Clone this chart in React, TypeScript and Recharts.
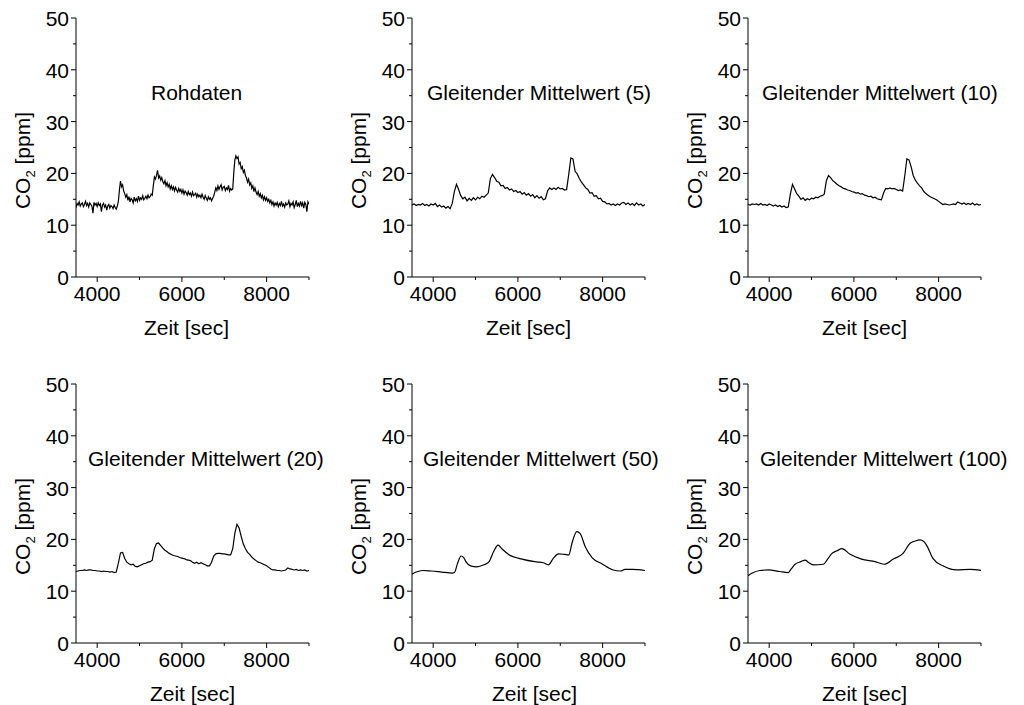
import React from "react";
import { LineChart, Line, XAxis, YAxis } from "recharts";

const FONT = '"Liberation Sans", Arial, Helvetica, sans-serif';

// sampling grid of the raw data (sec)
const TIME_25 = [
  3500, 3525, 3550, 3575, 3600, 3625, 3650, 3675, 3700, 3725, 3750, 3775, 3800, 3825, 3850, 3875, 3900, 3925, 3950, 3975,
  4000, 4025, 4050, 4075, 4100, 4125, 4150, 4175, 4200, 4225, 4250, 4275, 4300, 4325, 4350, 4375, 4400, 4425, 4450, 4475,
  4500, 4525, 4550, 4575, 4600, 4625, 4650, 4675, 4700, 4725, 4750, 4775, 4800, 4825, 4850, 4875, 4900, 4925, 4950, 4975,
  5000, 5025, 5050, 5075, 5100, 5125, 5150, 5175, 5200, 5225, 5250, 5275, 5300, 5325, 5350, 5375, 5400, 5425, 5450, 5475,
  5500, 5525, 5550, 5575, 5600, 5625, 5650, 5675, 5700, 5725, 5750, 5775, 5800, 5825, 5850, 5875, 5900, 5925, 5950, 5975,
  6000, 6025, 6050, 6075, 6100, 6125, 6150, 6175, 6200, 6225, 6250, 6275, 6300, 6325, 6350, 6375, 6400, 6425, 6450, 6475,
  6500, 6525, 6550, 6575, 6600, 6625, 6650, 6675, 6700, 6725, 6750, 6775, 6800, 6825, 6850, 6875, 6900, 6925, 6950, 6975,
  7000, 7025, 7050, 7075, 7100, 7125, 7150, 7175, 7200, 7225, 7250, 7275, 7300, 7325, 7350, 7375, 7400, 7425, 7450, 7475,
  7500, 7525, 7550, 7575, 7600, 7625, 7650, 7675, 7700, 7725, 7750, 7775, 7800, 7825, 7850, 7875, 7900, 7925, 7950, 7975,
  8000, 8025, 8050, 8075, 8100, 8125, 8150, 8175, 8200, 8225, 8250, 8275, 8300, 8325, 8350, 8375, 8400, 8425, 8450, 8475,
  8500, 8525, 8550, 8575, 8600, 8625, 8650, 8675, 8700, 8725, 8750, 8775, 8800, 8825, 8850, 8875, 8900, 8925, 8950, 8975,
  9000,
];

// CO2 [ppm], raw readings
const RAW = [
  13.4, 14.2, 13.9, 14.5, 13.7, 14.1, 14.3, 13.6, 14.0, 14.6, 13.8, 14.2, 13.5, 14.3, 14.0, 13.7, 12.3, 14.4, 13.9, 14.2,
  13.6, 14.3, 13.8, 14.1, 12.6, 13.9, 14.2, 13.5, 13.9, 12.9, 13.7, 14.0, 13.3, 13.8, 13.6, 13.2, 13.9, 13.4, 13.1, 13.7,
  14.6, 16.8, 18.5, 17.4, 17.8, 16.6, 16.1, 15.4, 15.9, 14.8, 15.5, 14.5, 15.2, 14.9, 14.3, 15.4, 14.7, 15.1, 14.6, 15.6,
  14.8, 15.3, 15.0, 15.7, 14.9, 15.2, 15.6, 15.1, 15.8, 15.3, 15.5, 16.0, 15.8, 17.6, 19.3, 18.9, 19.6, 20.6, 19.1, 19.5,
  18.7, 19.2, 18.4, 18.0, 18.6, 17.6, 18.2, 17.4, 17.9, 17.0, 17.6, 16.9, 17.4, 16.6, 17.3, 16.8, 16.4, 17.1, 16.5, 16.9,
  16.2, 16.8, 16.0, 16.6, 16.3, 15.8, 16.5, 15.9, 16.2, 15.6, 16.4, 15.7, 15.9, 16.2, 15.4, 16.0, 15.5, 15.8, 15.3, 16.0,
  15.4, 15.0, 15.7, 15.2, 14.8, 15.5, 15.0, 15.3, 14.7, 15.2, 15.6, 16.4, 17.2, 16.7, 17.6, 16.9, 17.4, 17.8, 16.8, 17.3,
  17.5, 16.7, 17.2, 16.9, 17.7, 16.6, 17.1, 16.8, 17.0, 20.2, 22.6, 23.4, 22.9, 23.2, 21.8, 22.1, 20.9, 21.3, 20.2, 20.6,
  19.6, 19.1, 18.3, 18.9, 17.8, 18.2, 17.1, 17.6, 16.5, 17.2, 16.4, 15.9, 16.5, 15.6, 16.1, 15.3, 15.8, 14.9, 15.5, 14.8,
  15.3, 14.6, 15.0, 14.3, 14.8, 14.0, 14.5, 13.7, 14.3, 13.9, 14.4, 13.6, 14.2, 13.8, 14.6, 13.7, 14.1, 13.5, 14.3, 13.9,
  14.1, 14.7, 13.6, 14.2, 13.9, 14.5, 13.4, 14.0, 14.8, 13.6, 14.2, 13.7, 14.6, 13.8, 14.3, 13.3, 14.4, 14.0, 12.6, 14.5,
  14.1,
];

// sampling grid of the short moving averages (sec)
const TIME_50 = [
  3500, 3550, 3600, 3650, 3700, 3750, 3800, 3850, 3900, 3950,
  4000, 4050, 4100, 4150, 4200, 4250, 4300, 4350, 4400, 4450,
  4500, 4550, 4600, 4650, 4700, 4750, 4800, 4850, 4900, 4950,
  5000, 5050, 5100, 5150, 5200, 5250, 5300, 5350, 5400, 5450,
  5500, 5550, 5600, 5650, 5700, 5750, 5800, 5850, 5900, 5950,
  6000, 6050, 6100, 6150, 6200, 6250, 6300, 6350, 6400, 6450,
  6500, 6550, 6600, 6650, 6700, 6750, 6800, 6850, 6900, 6950,
  7000, 7050, 7100, 7150, 7200, 7250, 7300, 7350, 7400, 7450,
  7500, 7550, 7600, 7650, 7700, 7750, 7800, 7850, 7900, 7950,
  8000, 8050, 8100, 8150, 8200, 8250, 8300, 8350, 8400, 8450,
  8500, 8550, 8600, 8650, 8700, 8750, 8800, 8850, 8900, 8950,
  9000,
];

const MA5 = [
  13.9, 14.1, 13.8, 14.0, 13.9, 14.2, 13.8, 14.0, 13.7, 14.1,
  13.9, 14.2, 13.6, 13.9, 13.5, 13.7, 13.3, 13.6, 13.2, 14.2,
  16.5, 17.9, 16.9, 15.7, 15.1, 15.4, 14.7, 15.2, 14.8, 15.3,
  14.9, 15.4, 15.1, 15.6, 15.4, 15.8, 16.2, 19.0, 19.8, 19.2,
  18.5, 18.3, 17.6, 17.7, 17.1, 17.3, 16.8, 17.0, 16.5, 16.7,
  16.3, 16.5, 16.0, 16.3, 15.8, 16.1, 15.6, 15.9, 15.3, 15.7,
  15.2, 15.5, 14.9, 15.1, 16.6, 17.2, 16.9, 17.2, 16.9, 17.3,
  17.0, 17.1, 16.8, 16.9, 19.8, 23.0, 22.8, 20.4, 19.9, 19.0,
  18.3, 17.8, 17.2, 16.9, 16.2, 16.3, 15.6, 15.7, 15.1, 15.2,
  14.6, 14.5, 14.1, 14.2, 13.9, 14.1, 13.8, 14.1, 13.9, 14.3,
  14.4, 14.0, 14.3, 13.9, 14.2, 13.8, 14.3, 13.9, 14.1, 13.7,
  14.0,
];

const MA10 = [
  14.0, 13.9, 14.1, 14.0, 14.1, 13.9, 14.2, 13.9, 14.0, 13.8,
  14.1, 13.9, 13.7, 13.9, 13.6, 13.8, 13.5, 13.7, 13.4, 13.5,
  16.0, 17.9, 17.0, 16.1, 15.6, 15.0, 15.3, 14.8, 15.1, 14.9,
  15.2, 15.1, 15.4, 15.3, 15.6, 15.7, 16.0, 18.6, 19.6, 19.2,
  18.6, 18.3, 17.9, 17.6, 17.4, 17.1, 17.0, 16.8, 16.7, 16.5,
  16.4, 16.2, 16.3, 16.0, 16.1, 15.8, 15.7, 15.5, 15.6, 15.3,
  15.4, 15.1, 15.0, 14.9, 16.2, 17.1, 17.0, 17.2, 17.0, 17.1,
  16.9, 16.7, 16.8, 16.6, 19.5, 22.8, 22.6, 21.3, 19.6, 18.7,
  18.1, 17.6, 17.2, 16.5, 16.1, 15.8, 15.5, 15.3, 15.1, 14.9,
  14.6, 14.3, 14.0, 14.1, 14.0, 13.9, 14.0, 14.1, 14.0, 14.5,
  14.3, 14.1, 14.3, 14.0, 14.2, 14.0, 14.3, 13.9, 14.1, 13.9,
  14.0,
];

const MA20 = [
  13.8, 13.9, 14.0, 14.0, 14.1, 14.0, 14.1, 14.1, 14.0, 14.0,
  13.9, 13.9, 13.8, 13.9, 13.8, 13.8, 13.7, 13.8, 13.6, 13.7,
  15.4, 17.4, 17.5, 16.3, 15.6, 15.3, 15.1, 15.2, 14.8, 14.7,
  14.9, 15.1, 15.3, 15.4, 15.6, 15.7, 16.0, 18.2, 19.2, 19.3,
  18.8, 18.3, 17.9, 17.6, 17.3, 17.1, 16.9, 16.8, 16.7, 16.5,
  16.4, 16.3, 16.1, 16.0, 15.9, 15.6, 15.4, 15.6, 15.3, 15.5,
  15.3, 15.1, 14.9, 14.9, 15.6, 16.8, 17.2, 17.3, 17.3, 17.2,
  17.2, 17.1, 17.0, 17.0, 18.2, 21.2, 22.9, 22.2, 20.6, 19.1,
  18.2, 17.5, 17.1, 16.6, 16.2, 15.9, 15.6, 15.5, 15.3, 15.1,
  14.9, 14.6, 14.3, 14.1, 14.1, 14.0, 14.0, 13.9, 14.0, 14.1,
  14.5, 14.3, 14.2, 14.1, 14.2, 14.0, 14.1, 14.0, 14.1, 13.9,
  14.0,
];

const TIME_MA50 = [
  3500, 3600, 3750, 3950, 4200, 4450, 4500, 4580, 4660, 4720,
  4780, 4880, 5030, 5200, 5310, 5430, 5530, 5620, 5780, 6100,
  6400, 6600, 6720, 6840, 6960, 7100, 7200, 7280, 7390, 7470,
  7590, 7750, 7980, 8250, 8420, 8530, 8700, 9000,
];
const MA50 = [
  13.3, 13.7, 14.0, 13.9, 13.7, 13.5, 13.6, 15.5, 16.8, 16.5,
  15.6, 14.9, 14.7, 15.1, 15.6, 17.7, 18.9, 18.2, 17.1, 16.2,
  15.7, 15.5, 15.1, 16.4, 17.2, 17.1, 17.0, 19.4, 21.5, 21.1,
  18.6, 16.5, 15.3, 14.1, 13.9, 14.2, 14.2, 14.0,
];

const TIME_MA100 = [
  3500, 3600, 3780, 3980, 4250, 4450, 4520, 4610, 4750, 4850,
  4920, 5040, 5280, 5380, 5470, 5600, 5720, 5900, 6180, 6500,
  6710, 6930, 7160, 7320, 7450, 7560, 7650, 7720, 7870, 8100,
  8420, 8740, 9000,
];
const MA100 = [
  13.0, 13.5, 14.0, 14.1, 13.8, 13.6, 14.3, 15.2, 15.7, 16.0,
  15.6, 15.1, 15.2, 16.2, 17.2, 17.8, 18.2, 17.2, 16.2, 15.7,
  15.2, 16.2, 17.3, 19.2, 19.7, 19.9, 19.6, 18.8, 16.3, 14.9,
  14.1, 14.2, 14.0,
];

const Y_TICKS = [0, 5, 10, 15, 20, 25, 30, 35, 40, 45, 50];
const X_TICKS = [4000, 5000, 6000, 7000, 8000, 9000];

const toRows = (times: number[], values: number[]) =>
  times.map((t, i) => ({ t, v: values[i] }));

const PANELS = [
  { title: "Rohdaten", rows: toRows(TIME_25, RAW), smooth: false, titleDx: 75, xLabelDx: -6 },
  { title: "Gleitender Mittelwert (5)", rows: toRows(TIME_50, MA5), smooth: false, titleDx: 15, xLabelDx: 0 },
  { title: "Gleitender Mittelwert (10)", rows: toRows(TIME_50, MA10), smooth: false, titleDx: 14, xLabelDx: 0 },
  { title: "Gleitender Mittelwert (20)", rows: toRows(TIME_50, MA20), smooth: false, titleDx: 12, xLabelDx: 0 },
  { title: "Gleitender Mittelwert (50)", rows: toRows(TIME_MA50, MA50), smooth: true, titleDx: 11, xLabelDx: 6 },
  { title: "Gleitender Mittelwert (100)", rows: toRows(TIME_MA100, MA100), smooth: true, titleDx: 12, xLabelDx: 0 },
];

// layout
const CHART_W = 360;
const CHART_H = 345;
const PLOT_LEFT = 76;
const PLOT_TOP = 18;
const PLOT_W = 233;
const PLOT_H = 259;
const COL_STEP = 336;
const ROW_STEP = 366;

const YTick = (props: any) => {
  const { x, y, payload } = props;
  const axisX = x + 7; // tickSize 5 + tickMargin 2
  const major = payload.value % 10 === 0;
  return (
    <g>
      <line x1={axisX - (major ? 5 : 3)} x2={axisX} y1={y} y2={y} stroke="#000" />
      {major && (
        <text x={x} y={y + 8} textAnchor="end" fontSize={21} fontFamily={FONT} fill="#000">
          {payload.value}
        </text>
      )}
    </g>
  );
};

const XTick = (props: any) => {
  const { x, y, payload } = props;
  const axisY = y - 8; // tickSize 5 + tickMargin 3
  const major = payload.value % 2000 === 0;
  return (
    <g>
      <line x1={x} x2={x} y1={axisY} y2={axisY + (major ? 5 : 3)} stroke="#000" />
      {major && (
        <text x={x} y={axisY + 24} textAnchor="middle" fontSize={21} fontFamily={FONT} fill="#000">
          {payload.value}
        </text>
      )}
    </g>
  );
};

const YLabel = (props: any) => {
  const vb = props.viewBox || { x: 0, y: PLOT_TOP, width: PLOT_LEFT, height: PLOT_H };
  const bx = vb.x + 30;
  const by = vb.y + vb.height / 2 + 13;
  return (
    <text
      x={bx}
      y={by}
      transform={`rotate(-90, ${bx}, ${by})`}
      textAnchor="middle"
      fontSize={21}
      fontFamily={FONT}
      fill="#000"
    >
      CO
      <tspan dy={5} fontSize={13}>2</tspan>
      <tspan dy={-5}> [ppm]</tspan>
    </text>
  );
};

const XLabel = (props: any) => {
  const vb = props.viewBox || { x: PLOT_LEFT, y: PLOT_TOP + PLOT_H, width: PLOT_W, height: 0 };
  return (
    <text
      x={vb.x + vb.width / 2 + (props.dx || 0)}
      y={vb.y + 58}
      textAnchor="middle"
      fontSize={21}
      fontFamily={FONT}
      fill="#000"
    >
      Zeit [sec]
    </text>
  );
};

const Panel = ({ panel, col, row }: any) => (
  <div
    style={{
      position: "absolute",
      left: col * COL_STEP,
      top: row * ROW_STEP,
      width: CHART_W,
      height: CHART_H,
    }}
  >
    <LineChart
      width={CHART_W}
      height={CHART_H}
      data={panel.rows}
      margin={{ top: PLOT_TOP, right: CHART_W - PLOT_LEFT - PLOT_W, left: 0, bottom: 0 }}
    >
      <XAxis
        dataKey="t"
        type="number"
        domain={[3500, 9000]}
        ticks={X_TICKS}
        interval={0}
        allowDataOverflow
        height={CHART_H - PLOT_TOP - PLOT_H}
        stroke="#000"
        tickLine={false}
        tickSize={5}
        tickMargin={3}
        tick={<XTick />}
        label={<XLabel dx={panel.xLabelDx} />}
      />
      <YAxis
        type="number"
        domain={[0, 50]}
        ticks={Y_TICKS}
        interval={0}
        width={PLOT_LEFT}
        stroke="#000"
        tickLine={false}
        tickSize={5}
        tickMargin={2}
        tick={<YTick />}
        label={<YLabel />}
      />
      <Line
        dataKey="v"
        type={panel.smooth ? "monotone" : "linear"}
        stroke="#000"
        strokeWidth={1.2}
        dot={false}
        activeDot={false}
        isAnimationActive={false}
      />
    </LineChart>
    <div
      style={{
        position: "absolute",
        left: PLOT_LEFT + panel.titleDx,
        top: PLOT_TOP + 64,
        fontSize: 21,
        lineHeight: "21px",
        fontFamily: FONT,
        whiteSpace: "nowrap",
        color: "#000",
      }}
    >
      {panel.title}
    </div>
  </div>
);

export default function App() {
  return (
    <div
      style={{
        position: "absolute",
        left: 0,
        top: 0,
        width: 1024,
        height: 705,
        overflow: "hidden",
        background: "#fff",
      }}
    >
      {PANELS.map((p, i) => (
        <Panel key={p.title} panel={p} col={i % 3} row={Math.floor(i / 3)} />
      ))}
    </div>
  );
}
